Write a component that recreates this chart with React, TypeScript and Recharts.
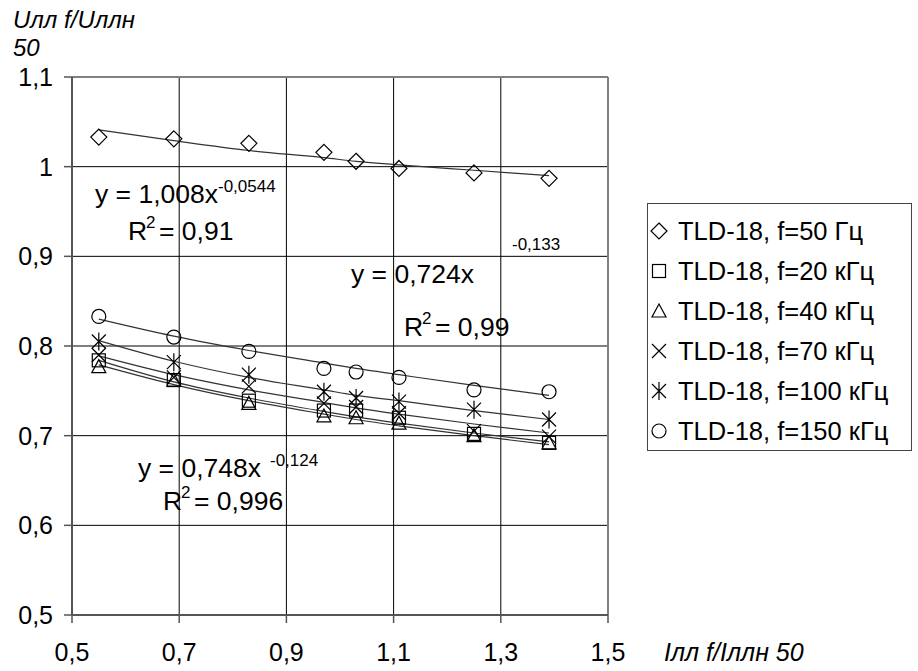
import React from 'react';
import {
  CartesianGrid,
  ComposedChart,
  Line,
  ReferenceLine,
  Scatter,
  XAxis,
  YAxis,
} from 'recharts';

const FONT = '"Liberation Sans", Arial, sans-serif';

// relative current, measured points
const xValues = [0.55, 0.69, 0.83, 0.97, 1.03, 1.11, 1.25, 1.39];
const f50 = [1.033, 1.031, 1.026, 1.016, 1.006, 0.998, 0.993, 0.987];
const f20k = [0.784, 0.762, 0.739, 0.728, 0.728, 0.72, 0.702, 0.692];
const f40k = [0.777, 0.762, 0.736, 0.722, 0.72, 0.714, 0.7, 0.692];
const f70k = [0.79, 0.765, 0.755, 0.736, 0.732, 0.725, 0.705, 0.699];
const f100k = [0.805, 0.782, 0.768, 0.749, 0.742, 0.738, 0.729, 0.718];
const f150k = [0.833, 0.81, 0.794, 0.775, 0.771, 0.765, 0.751, 0.749];

// power trend lines at the same x
const trend50 = [1.041, 1.029, 1.018, 1.01, 1.006, 1.002, 0.996, 0.99];
const trend20k = [0.784, 0.76, 0.742, 0.727, 0.721, 0.714, 0.703, 0.693];
const trend40k = [0.779, 0.757, 0.739, 0.724, 0.718, 0.711, 0.7, 0.69];
const trend70k = [0.789, 0.768, 0.751, 0.737, 0.731, 0.724, 0.713, 0.703];
const trend100k = [0.806, 0.783, 0.765, 0.751, 0.745, 0.739, 0.728, 0.718];
const trend150k = [0.83, 0.811, 0.795, 0.781, 0.775, 0.768, 0.756, 0.745];

const xTicks = [0.5, 0.7, 0.9, 1.1, 1.3, 1.5];
const yTicks = [0.5, 0.6, 0.7, 0.8, 0.9, 1, 1.1];

type Shape = 'diamond' | 'square' | 'triangle' | 'cross' | 'star' | 'circle';

const series: { key: string; name: string; values: number[]; trend: number[]; shape: Shape }[] = [
  { key: 'f50', name: 'TLD-18, f=50 Гц', values: f50, trend: trend50, shape: 'diamond' },
  { key: 'f20k', name: 'TLD-18, f=20 кГц', values: f20k, trend: trend20k, shape: 'square' },
  { key: 'f40k', name: 'TLD-18, f=40 кГц', values: f40k, trend: trend40k, shape: 'triangle' },
  { key: 'f70k', name: 'TLD-18, f=70 кГц', values: f70k, trend: trend70k, shape: 'cross' },
  { key: 'f100k', name: 'TLD-18, f=100 кГц', values: f100k, trend: trend100k, shape: 'star' },
  { key: 'f150k', name: 'TLD-18, f=150 кГц', values: f150k, trend: trend150k, shape: 'circle' },
];

const toRows = (vals: number[]) => xValues.map((x, i) => ({ x, y: vals[i] }));
const fmt = (v: number) => String(v).replace('.', ',');

function Marker({ cx, cy, shape }: { cx: number; cy: number; shape: Shape }) {
  const p = { fill: 'none', stroke: '#000', strokeWidth: 1.2 };
  switch (shape) {
    case 'diamond':
      return <path d={`M${cx},${cy - 8}L${cx + 8},${cy}L${cx},${cy + 8}L${cx - 8},${cy}Z`} {...p} />;
    case 'square':
      return <rect x={cx - 6.5} y={cy - 6.5} width={13} height={13} {...p} />;
    case 'triangle':
      return <path d={`M${cx},${cy - 7}L${cx + 7},${cy + 6}L${cx - 7},${cy + 6}Z`} {...p} />;
    case 'cross':
      return <path d={`M${cx - 7},${cy - 7}L${cx + 7},${cy + 7}M${cx + 7},${cy - 7}L${cx - 7},${cy + 7}`} {...p} />;
    case 'star':
      return (
        <path
          d={`M${cx - 7},${cy - 7}L${cx + 7},${cy + 7}M${cx + 7},${cy - 7}L${cx - 7},${cy + 7}M${cx},${cy - 9}L${cx},${cy + 9}`}
          {...p}
        />
      );
    default:
      return <circle cx={cx} cy={cy} r={7} {...p} />;
  }
}

function LegendBox() {
  return (
    <div
      style={{
        position: 'absolute',
        left: 647,
        top: 203,
        width: 265,
        height: 248,
        border: '1.5px solid #444',
        boxSizing: 'border-box',
        background: '#fff',
        fontFamily: FONT,
        fontSize: 25.5,
        color: '#000',
        paddingTop: 7,
      }}
    >
      {series.map((s) => (
        <div key={s.key} style={{ height: 40, display: 'flex', alignItems: 'center' }}>
          <svg width={30} height={40}>
            <Marker cx={11} cy={20} shape={s.shape} />
          </svg>
          <span style={{ whiteSpace: 'nowrap' }}>{s.name}</span>
        </div>
      ))}
    </div>
  );
}

const txt = { fontFamily: FONT, fontSize: 26.5, fill: '#000' };
const sup = { fontFamily: FONT, fontSize: 17, fill: '#000' };

export default function App() {
  return (
    <div style={{ position: 'absolute', left: 0, top: 0, width: 918, height: 671, background: '#fff' }}>
      <ComposedChart width={918} height={671} margin={{ top: 77, right: 310, bottom: 0, left: 0 }}>
        <CartesianGrid stroke="#000" strokeWidth={1} />
        <XAxis
          dataKey="x"
          type="number"
          domain={[0.5, 1.5]}
          ticks={xTicks}
          tickFormatter={fmt}
          height={56}
          tickSize={8}
          tickMargin={20}
          axisLine={{ stroke: '#555', strokeWidth: 2 }}
          tickLine={{ stroke: '#555', strokeWidth: 1.5 }}
          tick={{ fill: '#000', fontSize: 25, fontFamily: FONT }}
          allowDataOverflow
        />
        <YAxis
          type="number"
          domain={[0.5, 1.1]}
          ticks={yTicks}
          tickFormatter={fmt}
          width={72}
          tickSize={8}
          tickMargin={11}
          axisLine={{ stroke: '#555', strokeWidth: 2 }}
          tickLine={{ stroke: '#555', strokeWidth: 1.5 }}
          tick={{ fill: '#000', fontSize: 25, fontFamily: FONT }}
          allowDataOverflow
        />
        <ReferenceLine y={1.1} stroke="#808080" strokeWidth={2} />
        <ReferenceLine x={1.5} stroke="#808080" strokeWidth={2} />
        {series.map((s) => (
          <Line
            key={`t-${s.key}`}
            data={toRows(s.trend)}
            dataKey="y"
            type="monotone"
            stroke="#333"
            strokeWidth={1.2}
            dot={false}
            activeDot={false}
            legendType="none"
            isAnimationActive={false}
          />
        ))}
        {series.map((s) => (
          <Scatter
            key={s.key}
            name={s.name}
            data={toRows(s.values)}
            dataKey="y"
            shape={(props: any) => <Marker cx={props.cx} cy={props.cy} shape={s.shape} />}
            isAnimationActive={false}
          />
        ))}
      </ComposedChart>
      <LegendBox />
      <svg
        width={918}
        height={671}
        style={{ position: 'absolute', left: 0, top: 0, pointerEvents: 'none' }}
      >
        <text x={13} y={28} {...txt} fontSize={24} fontStyle="italic">Uлл f/Uллн</text>
        <text x={13} y={56} {...txt} fontSize={24} fontStyle="italic">50</text>
        <text x={664} y={661} {...txt} fontSize={25} fontStyle="italic">Iлл f/Iллн 50</text>

        <text x={95} y={203} {...txt}>y = 1,008x</text>
        <text x={218} y={192} {...sup}>-0,0544</text>
        <text x={128} y={240} {...txt}>R</text>
        <text x={146} y={228} {...sup}>2</text>
        <text x={159} y={240} {...txt}>= 0,91</text>

        <text x={351} y={283} {...txt}>y = 0,724x</text>
        <text x={512} y={250} {...sup}>-0,133</text>
        <text x={404} y={336} {...txt}>R</text>
        <text x={422} y={324} {...sup}>2</text>
        <text x={435} y={336} {...txt}>= 0,99</text>

        <text x={138} y={477} {...txt}>y = 0,748x</text>
        <text x={270} y={466} {...sup}>-0,124</text>
        <text x={163} y={510} {...txt}>R</text>
        <text x={181} y={498} {...sup}>2</text>
        <text x={194} y={510} {...txt}>= 0,996</text>
      </svg>
    </div>
  );
}
